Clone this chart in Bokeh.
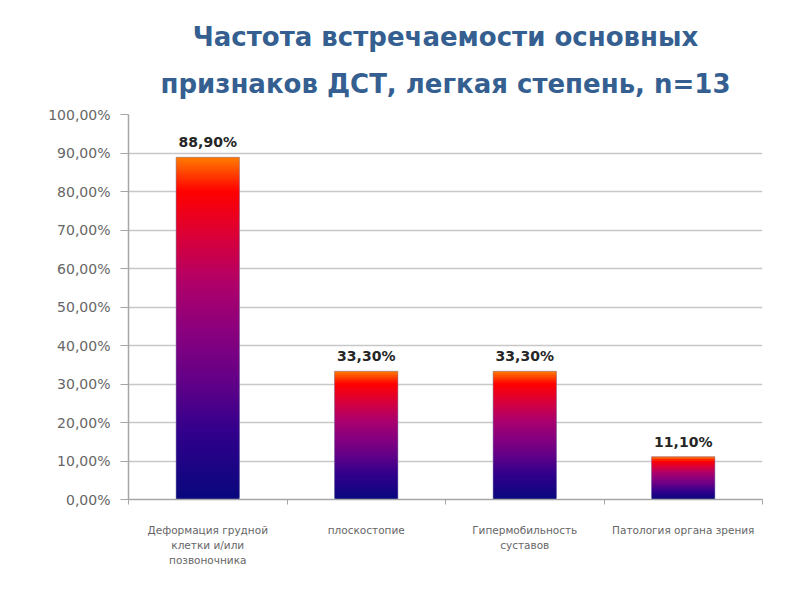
from bokeh.plotting import figure
from bokeh.models import ColumnDataSource, FixedTicker, Range1d, Title
from bokeh.embed import file_html
from bokeh.resources import INLINE
from bokeh.core.properties import value

title_lines = ["Частота встречаемости основных", "признаков ДСТ, легкая степень, n=13"]
categories = ["Деформация грудной\nклетки и/или\nпозвоночника", "плоскостопие",
              "Гипермобильность\nсуставов", "Патология органа зрения"]
values = [88.9, 33.3, 33.3, 11.1]
value_labels = ["88,90%", "33,30%", "33,30%", "11,10%"]
y_ticks = [0, 10, 20, 30, 40, 50, 60, 70, 80, 90, 100]
y_tick_labels = ["0,00%", "10,00%", "20,00%", "30,00%", "40,00%", "50,00%",
                 "60,00%", "70,00%", "80,00%", "90,00%", "100,00%"]

# gradient stops (fraction of bar height -> colour), "fire" style
stops = [(0.0, (8, 8, 125)), (0.2, (50, 0, 140)), (0.35, (100, 0, 135)),
         (0.5, (140, 0, 125)), (0.63, (175, 0, 105)), (0.76, (215, 0, 60)),
         (0.9, (255, 0, 0)), (1.0, (255, 125, 0))]

def grad(f):
    for (f0, c0), (f1, c1) in zip(stops[:-1], stops[1:]):
        if f <= f1:
            t = (f - f0) / (f1 - f0)
            return "#%02x%02x%02x" % tuple(int(round(a + (b - a) * t)) for a, b in zip(c0, c1))
    return "#%02x%02x%02x" % stops[-1][1]

xs, bots, tops, cols = [], [], [], []
for i, v in enumerate(values):
    N = max(10, int(round(v * 2)))  # about 2 px per slice
    for k in range(N):
        xs.append(i + 0.5)
        bots.append(v * k / N)
        tops.append(v * min(k + 2, N) / N)
        cols.append(grad((k + 0.5) / N))
src = ColumnDataSource(dict(x=xs, bottom=bots, top=tops, color=cols))

p = figure(width=784, height=584, output_backend="svg", toolbar_location=None,
           x_range=Range1d(0, len(categories)), y_range=Range1d(0, 100),
           min_border_left=128, min_border_right=22, min_border_top=114, min_border_bottom=85)
p.outline_line_color = None
p.background_fill_color = "white"

p.vbar(x="x", bottom="bottom", top="top", width=0.40, fill_color="color",
       line_color=None, source=src)

bar_src = ColumnDataSource(dict(x=[i + 0.5 for i in range(len(values))], y=values, t=value_labels))
p.vbar(x="x", top="y", bottom=0, width=0.40, fill_color=None, line_color="#8a8ab0",
       line_alpha=0.55, line_width=1, source=bar_src)
p.text(x="x", y="y", text="t", source=bar_src, text_align="center", text_baseline="bottom",
       y_offset=-7, text_font=value("DejaVu Sans"), text_font_style="bold",
       text_font_size="14px", text_color="#262626")

# title: two centred lines (second added first: it sits closest to the frame)
for txt, so in [(title_lines[1], 31), (title_lines[0], 0)]:
    p.add_layout(Title(text=txt, align="center", text_font="DejaVu Sans",
                       text_font_style="bold", text_font_size="26px",
                       text_color="#345f90", standoff=so), "above")

# y axis
ya = p.yaxis[0]
ya.ticker = FixedTicker(ticks=y_ticks)
ya.major_label_overrides = {t: l for t, l in zip(y_ticks, y_tick_labels)}
ya.major_label_text_font = "DejaVu Sans"
ya.major_label_text_font_size = "14px"
ya.major_label_text_color = "#666666"
ya.axis_line_color = "#a6a6a6"
ya.axis_line_width = 1.5
ya.major_tick_line_color = "#a6a6a6"
ya.major_tick_in = 0
ya.major_tick_out = 8
ya.minor_tick_line_color = None
ya.major_label_standoff = 10

p.ygrid.ticker = FixedTicker(ticks=y_ticks)
p.ygrid.grid_line_color = "#c8c8c8"
p.ygrid.grid_line_width = 1.5
p.xgrid.grid_line_color = None

# x axis
xa = p.xaxis[0]
centers = [i + 0.5 for i in range(len(categories))]
xa.ticker = FixedTicker(ticks=centers, minor_ticks=list(range(len(categories) + 1)))
xa.major_label_overrides = {c: l for c, l in zip(centers, categories)}
xa.major_label_text_font = "DejaVu Sans"
xa.major_label_text_font_size = "10.5px"
xa.major_label_text_color = "#666666"
xa.major_label_text_line_height = 1.25
xa.axis_line_color = "#a6a6a6"
xa.axis_line_width = 1.5
xa.major_tick_line_color = None
xa.major_tick_out = 0
xa.major_tick_in = 0
xa.minor_tick_line_color = "#a6a6a6"
xa.minor_tick_out = 5
xa.minor_tick_in = 0
xa.major_label_standoff = 19

open("out.html", "w").write(file_html(p, INLINE))
